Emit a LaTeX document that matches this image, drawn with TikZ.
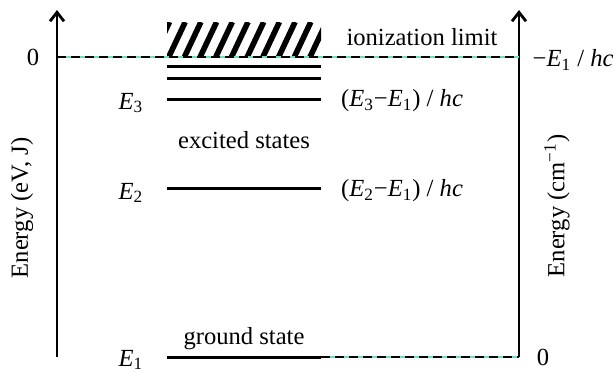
\documentclass[tikz,border=0pt]{standalone}
\usepackage{fontspec}
\setmainfont{Liberation Serif}
\usetikzlibrary{arrows.meta}
\definecolor{limitCyan}{RGB}{110, 222, 200}
\newcommand{\En}[1]{\textit{E}\textsubscript{#1}}

\begin{document}
\begin{tikzpicture}[x=0.5pt, y=-0.5pt, font=\fontsize{12.3}{14}\selectfont]
    \useasboundingbox (0,0) rectangle (616,372);
    \tikzset{
        axis/.style={line width=1pt, -{Straight Barb[length=4.5pt,width=7pt,line width=1.4pt]}},
        level/.style={line width=1.5pt},
        limit/.style={line width=1pt, dash pattern=on 4.5pt off 2.5pt},
    }
    % axes
    \coordinate (lb) at (57,357);
    \coordinate (lt) at (57,10);
    \coordinate (rb) at (519,357);
    \coordinate (rt) at (519,10);
    \draw[axis] (lb) -- (lt);
    \draw[axis] (rb) -- (rt);
    % continuum above the limit
    \coordinate (c1) at (167,22);
    \coordinate (c2) at (321,57);
    \begin{scope}
        \clip (c1) rectangle (c2);
        \foreach \x in {153,168.7,...,340}
            \draw[line width=2.8pt] (\x,57) -- (\x+16.5,22);
    \end{scope}
    % ionization limit and zero line
    \coordinate (z0) at (57,57);
    \coordinate (z1) at (519,57);
    \coordinate (g1) at (321,357);
    \draw[limitCyan, line width=1pt] (z0) -- (z1);
    \draw[limit] (z0) -- (z1);
    \draw[limitCyan, line width=1pt] (g1) -- (rb);
    \draw[limit] (g1) -- (rb);
    % levels
    \foreach \y/\n in {66/a, 78/b, 99/e3, 188/e2, 357/e1} {
        \coordinate (\n L) at (167,\y);
        \coordinate (\n R) at (321,\y);
        \draw[level] (\n L) -- (\n R);
    }
    % labels
    \node (zeroL) at (33,57) {0};
    \node (zeroR) at (543,357) {0};
    \node (E3) at (131,103) {\En{3}};
    \node (E2) at (131,193) {\En{2}};
    \node (E1) at (131,360) {\En{1}};
    \node (exc) at (244,140) {excited states};
    \node (gnd) at (244,339) {ground state};
    \node (ion) at (422,37) {ionization limit};
    \node[anchor=east, inner xsep=1pt] (lim) at (616,60) {−\En{1} / \textit{hc}};
    \node[anchor=west] (w3) at (334,101) {(\En{3}−\En{1}) / \textit{hc}};
    \node[anchor=west] (w2) at (334,191) {(\En{2}−\En{1}) / \textit{hc}};
    \node[rotate=90] (yL) at (22,208) {Energy (eV, J)};
    \node[rotate=90] (yR) at (557,206) {Energy (cm\textsuperscript{−1})};
\end{tikzpicture}
\end{document}
